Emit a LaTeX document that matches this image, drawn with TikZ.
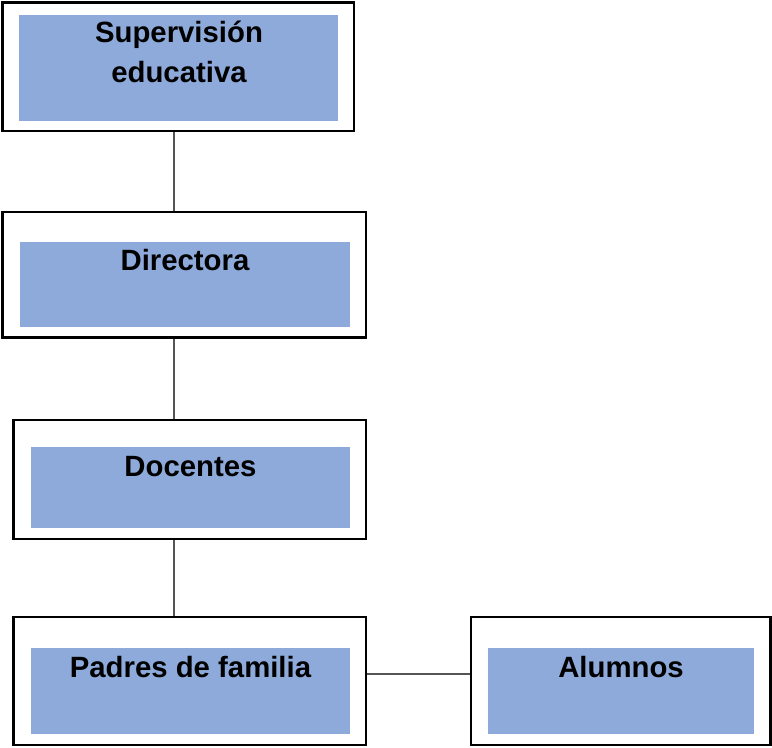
\documentclass[tikz,border=0pt]{standalone}
\usepackage{fontspec}
\setmainfont{Liberation Sans}
\usetikzlibrary{fit}
\definecolor{boxblue}{RGB}{142,170,219}
\definecolor{conngray}{RGB}{85,85,85}
\tikzset{
  outerbox/.style={draw=black, line width=1.7pt, fill=white, inner sep=0pt},
  innerbox/.style={fill=boxblue, draw=none, inner sep=0pt},
  lbl/.style={anchor=base, inner sep=0pt, align=center, font=\fontsize{22}{30}\selectfont\bfseries},
  conn/.style={draw=conngray, line width=1.1pt}
}
\begin{document}
\begin{tikzpicture}[x=0.75pt, y=-0.75pt]
\useasboundingbox (0,0) rectangle (772,747);
% outer boxes
\node[outerbox, fit={(2.5,2.5) (354,131)}] (sup) {};
\node[outerbox, fit={(2.5,212) (366,337.5)}] (dir) {};
\node[outerbox, fit={(13.5,420) (366,539)}] (doc) {};
\node[outerbox, fit={(13.5,617) (366,745)}] (pad) {};
\node[outerbox, fit={(471,617) (770.5,745)}] (alu) {};
% inner boxes
\node[innerbox, fit={(19,15) (338,121)}] (supin) {};
\node[innerbox, fit={(20,242) (350,327)}] (dirin) {};
\node[innerbox, fit={(31,447) (350,528)}] (docin) {};
\node[innerbox, fit={(31,648) (350,734)}] (padin) {};
\node[innerbox, fit={(488,648) (754,734)}] (aluin) {};
% labels
\node[lbl] (suptxt) at (179,82) {Supervisión\\educativa};
\node[lbl] (dirtxt) at (185,270) {Directora};
\node[lbl] (doctxt) at (190.5,476) {Docentes};
\node[lbl] (padtxt) at (190.5,677) {Padres de familia};
\node[lbl] (alutxt) at (621,677) {Alumnos};
% connectors
\coordinate (vx) at (174,0);
\coordinate (hy) at (0,674);
\draw[conn] (sup.south -| vx) -- (dir.north -| vx);
\draw[conn] (dir.south -| vx) -- (doc.north -| vx);
\draw[conn] (doc.south -| vx) -- (pad.north -| vx);
\draw[conn] (pad.east |- hy) -- (alu.west |- hy);
\end{tikzpicture}
\end{document}
